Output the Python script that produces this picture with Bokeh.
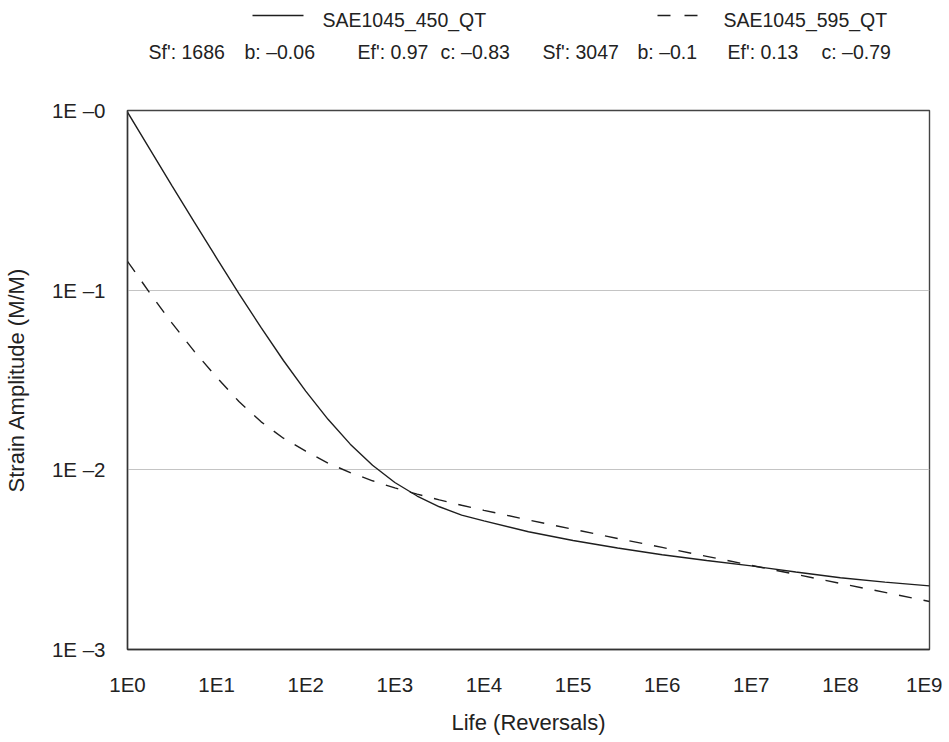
from bokeh.plotting import figure
from bokeh.models import FixedTicker, Range1d
from bokeh.core.properties import value
from bokeh.embed import file_html
from bokeh.resources import INLINE

# ---------------- data ----------------
life = [1, 1.78, 3.16, 5.62, 10, 17.8, 31.6, 56.2, 100, 178, 316, 562,
        1e3, 1.78e3, 3.16e3, 5.62e3, 1e4, 3.16e4, 1e5, 3.16e5, 1e6, 3.16e6,
        1e7, 3.16e7, 1e8, 3.16e8, 1e9]

strain_450 = [0.978, 0.61, 0.381, 0.239, 0.151, 0.0958, 0.0618, 0.0406,
              0.0274, 0.0191, 0.0139, 0.0106, 0.0085, 0.00715, 0.00623,
              0.0056, 0.0052, 0.00452, 0.00404, 0.00367, 0.00337, 0.00313,
              0.00292, 0.0027, 0.00251, 0.00237, 0.00226]

strain_595 = [0.1447, 0.0964, 0.0655, 0.0456, 0.0328, 0.0240, 0.0185,
              0.0150, 0.0127, 0.0109, 0.00966, 0.00869, 0.00793, 0.00732,
              0.0068, 0.00635, 0.00595, 0.00526, 0.00467, 0.00415, 0.0037,
              0.0033, 0.00294, 0.00262, 0.00233, 0.00208, 0.00185]

series_names = ["SAE1045_450_QT", "SAE1045_595_QT"]
params_450 = ["Sf': 1686", "b: \u20130.06", "Ef': 0.97", "c: \u20130.83"]
params_595 = ["Sf': 3047", "b: \u20130.1", "Ef': 0.13", "c: \u20130.79"]

xtick_vals = [1, 1e1, 1e2, 1e3, 1e4, 1e5, 1e6, 1e7, 1e8, 1e9]
xtick_labels = ["1E0", "1E1", "1E2", "1E3", "1E4", "1E5", "1E6", "1E7", "1E8", "1E9"]
ytick_vals = [1e-3, 1e-2, 1e-1, 1]
ytick_labels = ["1E \u20133", "1E \u20132", "1E \u20131", "1E \u20130"]
grid_vals = [1e-2, 1e-1]

FONT = "Liberation Sans"
TXT = "#222222"
INK = "#1e1e1e"

# ---------------- header (legend + parameters), page-pixel coordinates ----------------
header = figure(width=933, height=92, x_range=Range1d(8, 941), y_range=Range1d(100, 8),
                toolbar_location=None, output_backend="svg", min_border=0)
header.xaxis.visible = False
header.yaxis.visible = False
header.grid.visible = False
header.outline_line_color = None

ROW1 = 27
ROW2 = 59
header.line(x=[260, 311], y=[ROW1 - 4, ROW1 - 4], line_color=INK, line_width=1.4)
header.line(x=[665, 705], y=[ROW1 - 4, ROW1 - 4], line_color=INK, line_width=1.4,
            line_dash="13 14")
header.text(x=[330, 731], y=[ROW1, ROW1], text=series_names,
            text_font=value(FONT), text_font_size="19.5px", text_color=TXT,
            text_baseline="alphabetic", text_align="left")
header.text(x=[156, 252, 365, 448], y=[ROW2] * 4, text=params_450,
            text_font=value(FONT), text_font_size="19.5px", text_color=TXT,
            text_baseline="alphabetic", text_align="left")
header.text(x=[550, 645, 735, 829], y=[ROW2] * 4, text=params_595,
            text_font=value(FONT), text_font_size="19.5px", text_color=TXT,
            text_baseline="alphabetic", text_align="left")

# ---------------- main chart ----------------
p = figure(frame_width=802, frame_height=539, x_axis_type="log", y_axis_type="log",
           x_range=Range1d(1, 1e9), y_range=Range1d(1e-3, 1),
           toolbar_location=None, output_backend="svg",
           min_border_left=118, min_border_right=13, min_border_top=18, min_border_bottom=78)

p.line(life, strain_450, line_color=INK, line_width=1.4)
p.line(life, strain_595, line_color=INK, line_width=1.4, line_dash="13 12")

p.xaxis.ticker = FixedTicker(ticks=xtick_vals)
p.yaxis.ticker = FixedTicker(ticks=ytick_vals)
p.xaxis.major_label_overrides = dict(zip(xtick_vals, xtick_labels))
p.yaxis.major_label_overrides = dict(zip(ytick_vals, ytick_labels))

for ax in (p.xaxis, p.yaxis):
    ax.major_tick_out = 0
    ax.major_tick_in = 0
    ax.minor_tick_out = 0
    ax.minor_tick_in = 0
    ax.axis_line_color = "#333333"
    ax.axis_line_width = 1.4
    ax.major_label_text_font = FONT
    ax.major_label_text_font_size = "20.5px"
    ax.major_label_text_color = TXT
    ax.axis_label_text_font = FONT
    ax.axis_label_text_font_size = "22px"
    ax.axis_label_text_font_style = "normal"
    ax.axis_label_text_color = TXT

p.xaxis.axis_label = "Life (Reversals)"
p.yaxis.axis_label = "Strain Amplitude (M/M)"
p.xaxis.major_label_standoff = 23
p.yaxis.major_label_standoff = 22
p.xaxis.axis_label_standoff = 11
p.yaxis.axis_label_standoff = 20

p.xgrid.visible = False
p.ygrid.ticker = FixedTicker(ticks=grid_vals)
p.ygrid.grid_line_color = "#c4c4c4"
p.ygrid.grid_line_width = 1.2
p.outline_line_color = "#444444"
p.outline_line_width = 1.4

open("out.html", "w").write(file_html([header, p], INLINE))
